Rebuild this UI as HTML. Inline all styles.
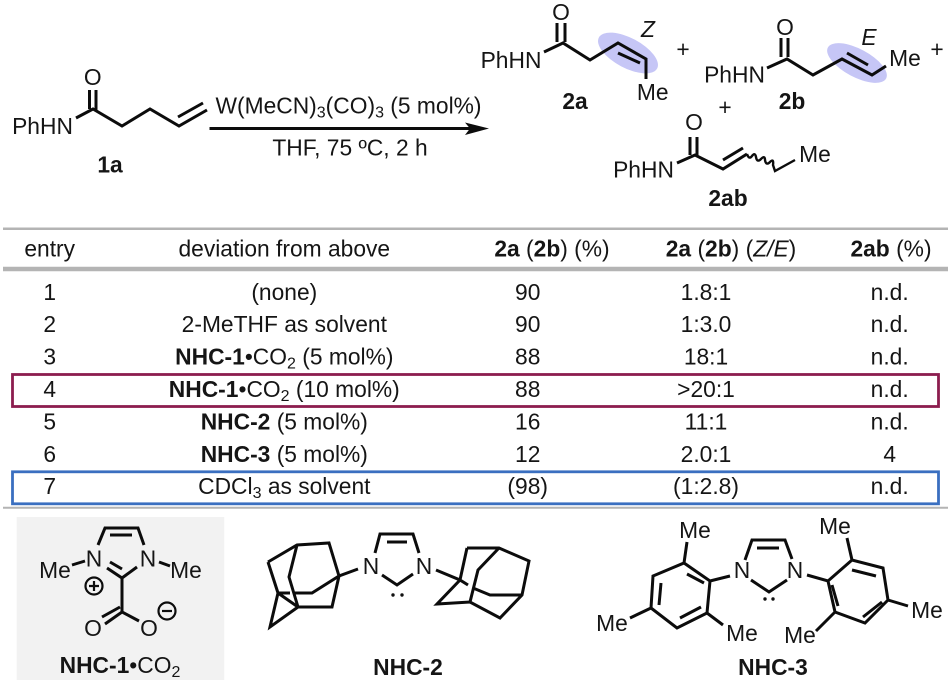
<!DOCTYPE html>
<html><head><meta charset="utf-8"><style>
html,body{margin:0;padding:0;background:#fff}
svg{display:block;filter:blur(0.35px)}
text{font-family:"Liberation Sans",sans-serif;font-size:22.8px;fill:#151515;text-anchor:middle}
.s{text-anchor:start}
.b{font-weight:bold}
.i{font-style:italic}
.m path,.m line,.m polyline{stroke:#0c0c0c;stroke-width:3;fill:none;stroke-linejoin:miter}
</style></head><body>
<svg width="952" height="684" viewBox="0 0 952 684" xmlns="http://www.w3.org/2000/svg">
<rect width="952" height="684" fill="#fff"/>
<rect x="16.7" y="517" width="207.5" height="163" fill="#f2f2f2"/>
<ellipse cx="628" cy="53" rx="33" ry="15" fill="#c6c6f6" transform="rotate(28 628 53)"/>
<ellipse cx="857" cy="63" rx="33" ry="14" fill="#c6c6f6" transform="rotate(28 857 63)"/>

<g stroke="#b4b4b4" fill="none">
<line x1="3" y1="228.7" x2="948" y2="228.7" stroke-width="2.5"/>
<line x1="3" y1="269" x2="948" y2="269" stroke-width="4.5"/>
<line x1="3" y1="507.8" x2="948" y2="507.8" stroke-width="2"/>
</g>
<rect x="12.5" y="374.5" width="926" height="32" fill="none" stroke="#8c1d4f" stroke-width="2.8"/>
<rect x="12.5" y="471.8" width="926" height="32" fill="none" stroke="#3a6fc0" stroke-width="2.8"/>

<g class="m">
<!-- 1a -->
<path d="M76 118L93 109L122 126L150 109L179 126L207 110M178 117L203 103M89.5 90V109M96 90V110"/>
<!-- arrow -->
<path d="M209.5 128.5H470" stroke-width="2.6"/>
<path d="M465 122.5L489 128.5L465 135L470 128.5Z" style="fill:#0c0c0c;stroke:none"/>
<!-- 2a -->
<path d="M544 52L563 43L590 60L618 43L646 59V79M618 53L640 63M557 23V42M565 23V42"/>
<!-- 2b -->
<path d="M767 68L787 59L813 75L842 59L872 75L886 66M847 53L868 65M781 38V57M788 38V57"/>
<!-- 2ab -->
<path d="M677 163L695 155L723 169L747 154M723 160L743 148M690 137V155M697 137V155"/>
<path d="M747 154q2 6 5 2t4 1q1 6 5 2t4 1q1 6 5 2t3 3l2 6L795 160" style="stroke-width:2.4"/>
<!-- NHC-1 -->
<path d="M98 545L105 528H138L144 545M110 535H132M72 565L85 561M159 562L170 566M137 567L122 578L107 568M110 562L122 569M122 578V612L139 621M122 612L105 624M102 617L120 607"/>
<circle cx="94" cy="586" r="8.5" stroke="#0c0c0c" stroke-width="2.2" fill="none"/>
<path d="M89 586H99M94 581V591" style="stroke-width:2.2"/>
<circle cx="167" cy="611" r="8.5" stroke="#0c0c0c" stroke-width="2.2" fill="none"/>
<path d="M162 611H172" style="stroke-width:2.2"/>
<!-- NHC-2 -->
<path d="M375 553L380 534H413L419 553M387 542H407M382 575L397 585L413 574"/>
<path d="M268 562L297 545L329 543L339 576L332 607H298L278 593L268 562M278 593L270 627L298 607M297 545L289 577L298 607M278 593H290M295 593H312L339 576L358 569"/>
<path d="M467 548H499L529 561L522 595L500 618L470 602L437 604L460 580L467 548M499 548L478 570L470 602M522 595L490 595L473 588M468 585L460 580L436 570"/>
<!-- NHC-3 -->
<path d="M745 560L752 540H785L792 559M757 548H779M751 580L769 592L787 580"/>
<path d="M730 576L710 581L684 563L653 576L651 608L677 628L707 613L710 581M687 574L704 583M661 583L659 605M680 618L701 607M684 563L687 542M651 608L630 618M707 613L723 625"/>
<path d="M807 575L828 581L852 560L883 568L888 600L865 623L835 612L828 581M852 570L876 576M882 602L863 617M832 585L838 606M852 560L847 538M888 600L908 606M835 612L816 631"/>
</g>
<g fill="#111">
<circle cx="393" cy="595" r="1.7"/><circle cx="402" cy="595" r="1.7"/>
<circle cx="765" cy="599" r="1.7"/><circle cx="773" cy="599" r="1.7"/>
</g>

<!-- Scheme labels -->
<text x="42.5" y="134">PhHN</text><text x="92.7" y="85">O</text>
<text class="b" x="110" y="172.7">1a</text>
<text x="348.5" y="113.5">W(MeCN)<tspan font-size="16" dy="4">3</tspan><tspan dy="-4">(CO)</tspan><tspan font-size="16" dy="4">3</tspan><tspan dy="-4"> (5 mol%)</tspan></text>
<text x="350" y="155.7">THF, 75 ºC, 2 h</text>

<text x="511" y="68">PhHN</text><text x="561" y="20">O</text>
<text x="652.7" y="100">Me</text><text class="i" x="648" y="37">Z</text>
<text x="683" y="57">+</text><text class="b" x="575" y="109">2a</text>

<text x="734.5" y="82.7">PhHN</text><text x="785" y="35">O</text>
<text x="905" y="66">Me</text><text class="i" x="869" y="45">E</text>
<text x="937" y="57">+</text><text class="b" x="792" y="109">2b</text>
<text x="725" y="115">+</text>

<text x="643.5" y="177.7">PhHN</text><text x="694" y="130">O</text>
<text x="815" y="162">Me</text><text class="b" x="728" y="206">2ab</text>

<!-- Header -->
<text x="49.7" y="256.7">entry</text>
<text x="284.3" y="256.7">deviation from above</text>
<text x="552" y="256.7"><tspan font-weight="bold">2a</tspan> (<tspan font-weight="bold">2b</tspan>) (%)</text>
<text x="731" y="256.7"><tspan font-weight="bold">2a</tspan> (<tspan font-weight="bold">2b</tspan>) (<tspan font-style="italic">Z/E</tspan>)</text>
<text x="891" y="256.7"><tspan font-weight="bold">2ab</tspan> (%)</text>

<!-- Rows -->
<text x="49.7" y="300">1</text><text x="284.3" y="300">(none)</text><text x="527.7" y="300">90</text><text x="706" y="300">1.8:1</text><text x="889.7" y="300">n.d.</text>
<text x="49.7" y="332">2</text><text x="284.3" y="332">2-MeTHF as solvent</text><text x="527.7" y="332">90</text><text x="706" y="332">1:3.0</text><text x="889.7" y="332">n.d.</text>
<text x="49.7" y="364.5">3</text><text x="284.3" y="364.5"><tspan font-weight="bold">NHC-1</tspan>•CO<tspan font-size="16" dy="4">2</tspan><tspan dy="-4"> (5 mol%)</tspan></text><text x="527.7" y="364.5">88</text><text x="706" y="364.5">18:1</text><text x="889.7" y="364.5">n.d.</text>
<text x="49.7" y="397">4</text><text x="284.3" y="397"><tspan font-weight="bold">NHC-1</tspan>•CO<tspan font-size="16" dy="4">2</tspan><tspan dy="-4"> (10 mol%)</tspan></text><text x="527.7" y="397">88</text><text x="706" y="397">&gt;20:1</text><text x="889.7" y="397">n.d.</text>
<text x="49.7" y="429.5">5</text><text x="284.3" y="429.5"><tspan font-weight="bold">NHC-2</tspan> (5 mol%)</text><text x="527.7" y="429.5">16</text><text x="706" y="429.5">11:1</text><text x="889.7" y="429.5">n.d.</text>
<text x="49.7" y="462">6</text><text x="284.3" y="462"><tspan font-weight="bold">NHC-3</tspan> (5 mol%)</text><text x="527.7" y="462">12</text><text x="706" y="462">2.0:1</text><text x="889.7" y="462">4</text>
<text x="49.7" y="494">7</text><text x="284.3" y="494">CDCl<tspan font-size="16" dy="4">3</tspan><tspan dy="-4"> as solvent</tspan></text><text x="527.7" y="494">(98)</text><text x="706" y="494">(1:2.8)</text><text x="889.7" y="494">n.d.</text>

<!-- NHC-1 labels -->
<text x="94" y="566.7">N</text><text x="148" y="566.7">N</text>
<text x="55" y="578">Me</text><text x="186" y="578">Me</text>
<text x="93" y="636">O</text><text x="149" y="636">O</text>
<text x="120" y="673"><tspan font-weight="bold">NHC-1</tspan>•CO<tspan font-size="16" dy="4">2</tspan></text>
<!-- NHC-2 labels -->
<text x="371" y="574">N</text><text x="424" y="574">N</text>
<text class="b" x="408" y="675">NHC-2</text>
<!-- NHC-3 labels -->
<text x="742" y="578">N</text><text x="795" y="578">N</text>
<text x="695" y="538">Me</text><text x="612" y="631">Me</text><text x="742" y="641">Me</text>
<text x="835" y="534">Me</text><text x="927" y="618">Me</text><text x="800" y="643">Me</text>
<text class="b" x="773" y="675">NHC-3</text>
</svg>
</body></html>
